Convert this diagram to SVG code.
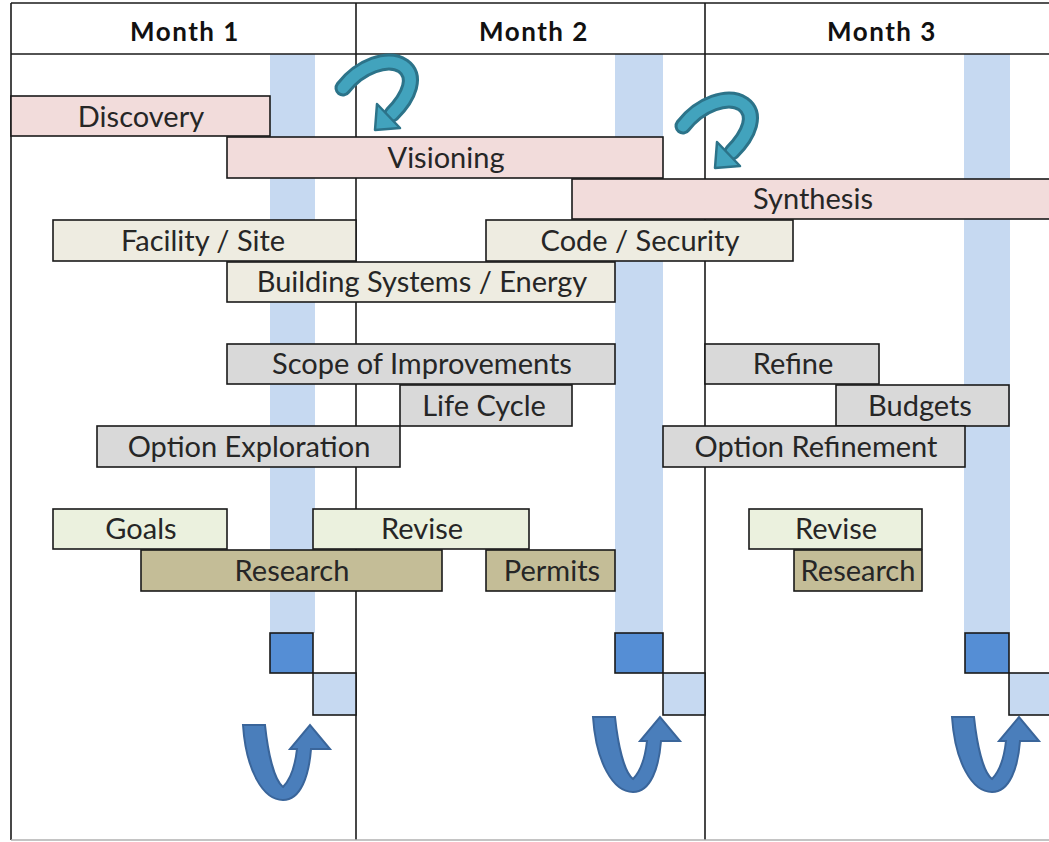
<svg xmlns="http://www.w3.org/2000/svg" width="1049" height="842" viewBox="0 0 1049 842">
<style>
.bar{stroke:#1a1a1a;stroke-width:1.6}
.pink{fill:#f2dcdb}.beige{fill:#eeece1}.gray{fill:#d9d9d9}.green{fill:#ebf1de}.khaki{fill:#c4bd97}
.lbl{font-family:Lato,"Open Sans",sans-serif;font-size:29px;fill:#262626;text-anchor:middle}
.hdr{font-family:Lato,"Open Sans",sans-serif;font-size:26px;font-weight:bold;letter-spacing:1.5px;fill:#111;text-anchor:middle}
.grid{stroke:#1a1a1a;stroke-width:1.6;fill:none}
.stripe{fill:#c6d9f1}
.sqd{fill:#558ed5;stroke:#1a1a1a;stroke-width:1.6}
.sql{fill:#c6d9f1;stroke:#1a1a1a;stroke-width:1.6}
.ushape{fill:#4a7ebb;stroke:#3a659a;stroke-width:2}
.tshaft{fill:none;stroke-linecap:round}
</style>
<defs>
<path id="u" d="M0,0 L22,0 C25,28 31,55 40,62 C47,55 52,42 54,24 L47,24 L67,0 L87,24 L68,24 C66,50 58,75 40,75 C20,75 3,45 0,0 Z"/>
<g id="t">
<path class="tshaft" d="M343,88 C360,66 388,56 403,66 C417,76 410,96 392,114" stroke="#2c7389" stroke-width="17"/>
<path class="tshaft" d="M343,88 C360,66 388,56 403,66 C417,76 410,96 392,114" stroke="#42a3bd" stroke-width="11"/>
<polygon points="375,130 377,104 400,128" fill="#42a3bd" stroke="#2c7389" stroke-width="2.5" stroke-linejoin="round"/>
</g>
</defs>
<rect width="1049" height="842" fill="#fff"/>
<g id="stripes">
<rect class="stripe" x="270" y="54" width="45" height="579"/>
<rect class="stripe" x="615" y="54" width="48" height="579"/>
<rect class="stripe" x="964" y="54" width="46" height="579"/>
</g>
<g id="grid">
<line class="grid" x1="11" y1="3" x2="1049" y2="3"/>
<line class="grid" x1="11" y1="54" x2="1049" y2="54"/>
<line class="grid" x1="11" y1="3" x2="11" y2="840"/>
<line class="grid" x1="356" y1="3" x2="356" y2="840"/>
<line class="grid" x1="705" y1="3" x2="705" y2="840"/>
<line x1="11" y1="840" x2="1049" y2="840" stroke="#b0b0b0" stroke-width="1.5"/>
<text class="hdr" x="185" y="41">Month 1</text>
<text class="hdr" x="534" y="41">Month 2</text>
<text class="hdr" x="882" y="41">Month 3</text>
</g>
<g id="discovery"><rect class="bar pink" x="11" y="96" width="259" height="40"/><text class="lbl" x="141" y="127">Discovery</text></g>
<g id="visioning"><rect class="bar pink" x="227" y="137" width="436" height="41"/><text class="lbl" x="446" y="168">Visioning</text></g>
<g id="synthesis"><rect class="bar pink" x="572" y="179" width="480" height="40"/><text class="lbl" x="813" y="209">Synthesis</text></g>
<g id="facility"><rect class="bar beige" x="53" y="220" width="303" height="41"/><text class="lbl" x="203" y="251">Facility / Site</text></g>
<g id="code"><rect class="bar beige" x="486" y="220" width="307" height="41"/><text class="lbl" x="640" y="251">Code / Security</text></g>
<g id="building"><rect class="bar beige" x="227" y="262" width="388" height="40"/><text class="lbl" x="422" y="292">Building Systems / Energy</text></g>
<g id="scope"><rect class="bar gray" x="227" y="344" width="388" height="40"/><text class="lbl" x="422" y="374">Scope of Improvements</text></g>
<g id="lifecycle"><rect class="bar gray" x="400" y="385" width="172" height="41"/><text class="lbl" x="484" y="416">Life Cycle</text></g>
<g id="optexp"><rect class="bar gray" x="97" y="426" width="303" height="41"/><text class="lbl" x="249" y="457">Option Exploration</text></g>
<g id="refine"><rect class="bar gray" x="705" y="344" width="174" height="40"/><text class="lbl" x="793" y="374">Refine</text></g>
<g id="budgets"><rect class="bar gray" x="836" y="385" width="173" height="41"/><text class="lbl" x="920" y="416">Budgets</text></g>
<g id="optref"><rect class="bar gray" x="663" y="426" width="302" height="41"/><text class="lbl" x="816" y="457">Option Refinement</text></g>
<g id="goals"><rect class="bar green" x="53" y="509" width="174" height="40"/><text class="lbl" x="141" y="539">Goals</text></g>
<g id="revise1"><rect class="bar green" x="313" y="509" width="216" height="40"/><text class="lbl" x="422" y="539">Revise</text></g>
<g id="research1"><rect class="bar khaki" x="141" y="550" width="301" height="41"/><text class="lbl" x="292" y="581">Research</text></g>
<g id="permits"><rect class="bar khaki" x="486" y="550" width="129" height="41"/><text class="lbl" x="552" y="581">Permits</text></g>
<g id="revise3"><rect class="bar green" x="749" y="509" width="173" height="40"/><text class="lbl" x="836" y="539">Revise</text></g>
<g id="research3"><rect class="bar khaki" x="794" y="550" width="128" height="41"/><text class="lbl" x="858" y="581">Research</text></g>
<g id="squares">
<rect class="sqd" x="270" y="633" width="43" height="40"/><rect class="sql" x="313" y="673" width="43" height="42"/>
<rect class="sqd" x="615" y="633" width="48" height="40"/><rect class="sql" x="663" y="673" width="42" height="42"/>
<rect class="sqd" x="965" y="633" width="44" height="40"/><rect class="sql" x="1009" y="673" width="42" height="42"/>
</g>
<g id="connectors">
<use href="#t"/>
<use href="#t" transform="translate(340,38)"/>
<use href="#u" class="ushape" transform="translate(243,725)"/>
<use href="#u" class="ushape" transform="translate(593,717)"/>
<use href="#u" class="ushape" transform="translate(952,717)"/>
</g>
</svg>
